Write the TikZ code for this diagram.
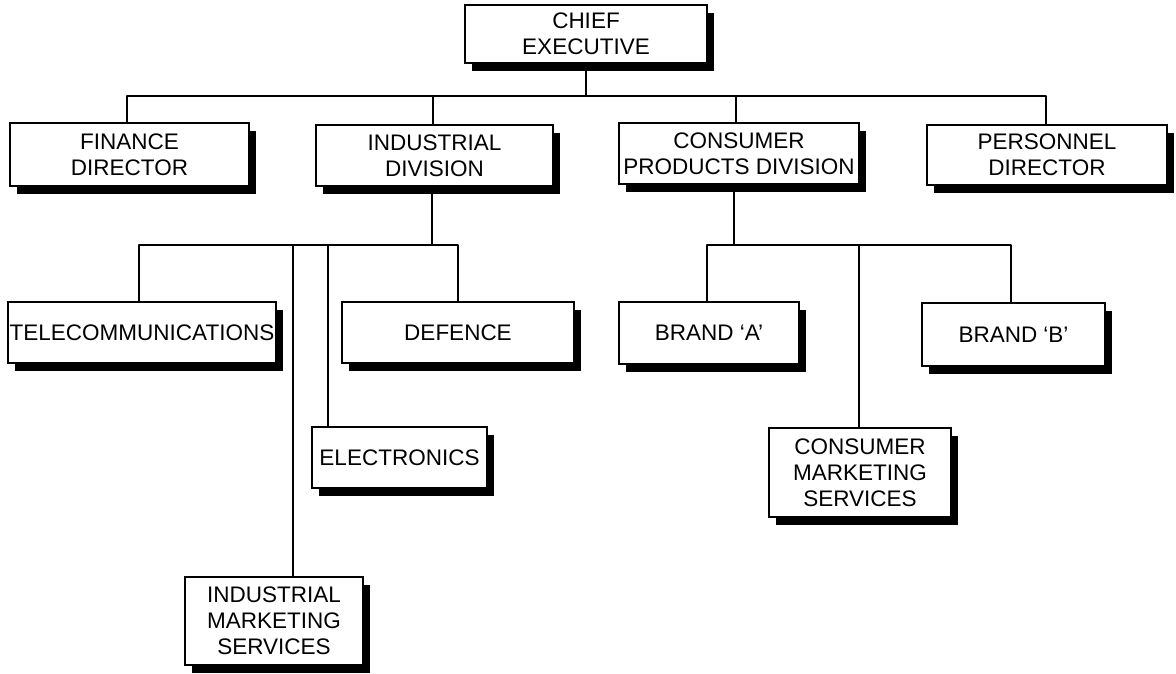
\documentclass[tikz,border=0pt]{standalone}
\usepackage{fontspec}
\setmainfont{Liberation Sans}
\usetikzlibrary{shadows}

\tikzset{
  unit/.style={draw=black, line width=1.6pt, fill=white, inner sep=0pt,
    align=center, font=\fontsize{22.5}{26}\selectfont,
    drop shadow={shadow xshift=7pt, shadow yshift=-8pt, fill=black, opacity=1}},
  link/.style={line width=2pt, line cap=round, line join=round}
}

\begin{document}
\begin{tikzpicture}[x=1pt, y=-1pt]
\useasboundingbox (0,0) rectangle (1176,674);

% bus levels
\coordinate (topbus) at (0,96);
\coordinate (lowbus) at (0,245);

% drop positions on the top bus
\coordinate (finc) at (127,154);
\coordinate (indc) at (433,154);
\coordinate (cpdc) at (736,154);
\coordinate (persc) at (1046,154);

% top level boxes
\node[unit, minimum width=242pt, minimum height=58pt] (chief) at (586,34) {CHIEF\\EXECUTIVE};
\node[unit, minimum width=239pt, minimum height=63pt] (fin) at (129.5,154.5) {FINANCE\\DIRECTOR};
\node[unit, minimum width=237pt, minimum height=61pt] (ind) at (434.5,155.5) {INDUSTRIAL\\DIVISION};
\node[unit, minimum width=240pt, minimum height=61pt] (cpd) at (739,153.5) {CONSUMER\\PRODUCTS DIVISION};
\node[unit, minimum width=240pt, minimum height=60pt] (pers) at (1047,155) {PERSONNEL\\DIRECTOR};

% industrial units
\node[unit, minimum width=268pt, minimum height=61pt] (tel) at (142,332.5) {TELECOMMUNICATIONS};
\node[unit, minimum width=232pt, minimum height=61pt] (def) at (458,332.5) {DEFENCE};
\node[unit, minimum width=175pt, minimum height=61pt] (ele) at (399.5,457.5) {ELECTRONICS};
\node[unit, minimum width=178pt, minimum height=88pt] (ims) at (274,621) {INDUSTRIAL\\MARKETING\\SERVICES};

% consumer units
\node[unit, minimum width=180pt, minimum height=62pt] (bra) at (709,333) {BRAND `A'};
\node[unit, minimum width=183pt, minimum height=63pt] (brb) at (1013.5,334.5) {BRAND `B'};
\node[unit, minimum width=182pt, minimum height=89pt] (cms) at (860,472.5) {CONSUMER\\MARKETING\\SERVICES};

% top bus
\draw[link] (chief.south) -- (chief.south |- topbus);
\draw[link] (fin.north -| finc) -- (finc |- topbus) -- (persc |- topbus) -- (pers.north -| persc);
\draw[link] (ind.north -| indc) -- (indc |- topbus);
\draw[link] (cpd.north -| cpdc) -- (cpdc |- topbus);

% industrial division branch
\draw[link] ([xshift=-3pt]ind.south) -- ([xshift=-3pt]ind.south |- lowbus);
\draw[link] ([xshift=-3pt]tel.north) -- ([xshift=-3pt]tel.north |- lowbus)
  -- (def.north |- lowbus) -- (def.north);
\draw[link] ([xshift=19pt]ims.north) -- ([xshift=19pt]ims.north |- lowbus);
\draw[link] ([xshift=-72pt]ele.north) -- ([xshift=-72pt]ele.north |- lowbus);

% consumer products branch
\draw[link] ([xshift=-5pt]cpd.south) -- ([xshift=-5pt]cpd.south |- lowbus);
\draw[link] ([xshift=-2pt]bra.north) -- ([xshift=-2pt]bra.north |- lowbus)
  -- ([xshift=-3pt]brb.north |- lowbus) -- ([xshift=-3pt]brb.north);
\draw[link] ([xshift=-1pt]cms.north) -- ([xshift=-1pt]cms.north |- lowbus);
\end{tikzpicture}
\end{document}
